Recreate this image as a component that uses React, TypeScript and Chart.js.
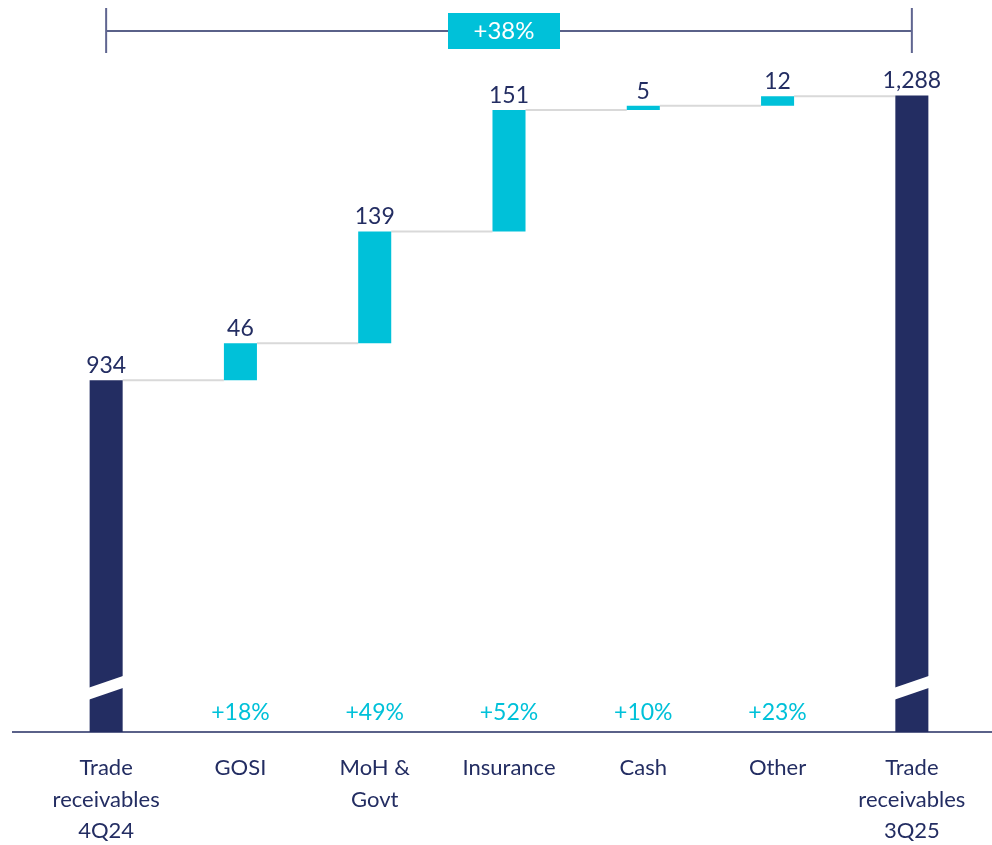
import React, { useEffect, useRef } from "react";
import { Chart, registerables } from "chart.js";
Chart.register(...registerables);

const categories: string[][] = [
  ["Trade", "receivables", "4Q24"],
  ["GOSI"],
  ["MoH &", "Govt"],
  ["Insurance"],
  ["Cash"],
  ["Other"],
  ["Trade", "receivables", "3Q25"],
];
const startTotal = 934;
const changes = [46, 139, 151, 5, 12];
const endTotal = 1288;
const growthLabels = ["+18%", "+49%", "+52%", "+10%", "+23%"];
const totalGrowth = "+38%";
const axisMin = 497;
const axisMax = 1332;
const breakValue = 552;

const NAVY = "#232d62";
const CYAN = "#00c1d9";
const GRAY = "#d9d9d9";
const FONT = "Lato, 'Open Sans', sans-serif";

function buildRanges(): [number, number][] {
  const out: [number, number][] = [[0, startTotal]];
  let level = startTotal;
  for (const c of changes) {
    out.push([level, level + c]);
    level += c;
  }
  out.push([0, endTotal]);
  return out;
}

function fmt(n: number) {
  return n.toLocaleString("en-US");
}

export default function App() {
  const ref = useRef<HTMLCanvasElement | null>(null);
  useEffect(() => {
    if (!ref.current) return;
    const ranges = buildRanges();
    const labelsText = [fmt(startTotal), ...changes.map((c) => fmt(c)), fmt(endTotal)];
    const colors = ranges.map((_, i) => (i === 0 || i === ranges.length - 1 ? NAVY : CYAN));

    const plugin = {
      id: "waterfallDecor",
      beforeDatasetsDraw(chart: any) {
        const ctx = chart.ctx;
        const meta = chart.getDatasetMeta(0);
        const y = chart.scales.y;
        ctx.save();
        ctx.strokeStyle = GRAY;
        ctx.lineWidth = 2;
        for (let i = 0; i < ranges.length - 1; i++) {
          const a = meta.data[i];
          const b = meta.data[i + 1];
          const lvl = i + 1 === ranges.length - 1 ? ranges[i][1] : ranges[i + 1][0];
          const py = y.getPixelForValue(lvl);
          ctx.beginPath();
          ctx.moveTo(a.x + a.width / 2, py);
          ctx.lineTo(b.x - b.width / 2, py);
          ctx.stroke();
        }
        ctx.restore();
      },
      afterDatasetsDraw(chart: any) {
        const ctx = chart.ctx;
        const meta = chart.getDatasetMeta(0);
        const x = chart.scales.x;
        const y = chart.scales.y;
        const area = chart.chartArea;
        ctx.save();
        // break marks
        const by = y.getPixelForValue(breakValue);
        [0, ranges.length - 1].forEach((i) => {
          const el = meta.data[i];
          const l = el.x - el.width / 2 - 1;
          const r = el.x + el.width / 2 + 1;
          ctx.fillStyle = "#ffffff";
          ctx.beginPath();
          ctx.moveTo(l, by);
          ctx.lineTo(r, by - 12);
          ctx.lineTo(r, by);
          ctx.lineTo(l, by + 12);
          ctx.closePath();
          ctx.fill();
        });
        // value labels
        ctx.fillStyle = NAVY;
        ctx.font = `23px ${FONT}`;
        ctx.textAlign = "center";
        ctx.textBaseline = "bottom";
        ranges.forEach((r, i) => {
          const el = meta.data[i];
          const top = y.getPixelForValue(Math.max(r[0], r[1]));
          ctx.fillText(labelsText[i], el.x, top - 3);
        });
        // growth labels
        ctx.fillStyle = CYAN;
        ctx.font = `23px ${FONT}`;
        ctx.textBaseline = "middle";
        growthLabels.forEach((g, i) => {
          ctx.fillText(g, x.getPixelForValue(i + 1), 713);
        });
        // axis line
        ctx.strokeStyle = NAVY;
        ctx.lineWidth = 1.5;
        ctx.beginPath();
        ctx.moveTo(12, area.bottom);
        ctx.lineTo(992, area.bottom);
        ctx.stroke();
        // category labels
        ctx.fillStyle = NAVY;
        ctx.font = `22px ${FONT}`;
        ctx.textBaseline = "middle";
        categories.forEach((lines, i) => {
          const cx = x.getPixelForValue(i);
          lines.forEach((t, j) => ctx.fillText(t, cx, 768 + j * 31.5));
        });
        // top bracket
        const x0 = x.getPixelForValue(0);
        const x1 = x.getPixelForValue(ranges.length - 1);
        ctx.strokeStyle = NAVY;
        ctx.lineWidth = 1.5;
        ctx.beginPath();
        ctx.moveTo(x0, 31);
        ctx.lineTo(x1, 31);
        ctx.stroke();
        ctx.strokeStyle = "#5f6590";
        ctx.lineWidth = 2;
        ctx.beginPath();
        ctx.moveTo(x0, 8);
        ctx.lineTo(x0, 53);
        ctx.moveTo(x1, 8);
        ctx.lineTo(x1, 53);
        ctx.stroke();
        const bw = 112;
        const bh = 36;
        const bx = (x0 + x1) / 2 - 5;
        ctx.fillStyle = CYAN;
        ctx.fillRect(bx - bw / 2, 13, bw, bh);
        ctx.fillStyle = "#ffffff";
        ctx.font = `24px ${FONT}`;
        ctx.fillText(totalGrowth, bx, 31);
        ctx.restore();
      },
    };

    const chart = new Chart(ref.current, {
      type: "bar",
      data: {
        labels: categories.map((c) => c.join(" ")),
        datasets: [
          {
            data: ranges as any,
            backgroundColor: colors,
            borderWidth: 0,
            barPercentage: 0.246,
            categoryPercentage: 1,
          },
        ],
      },
      options: {
        responsive: false,
        animation: false,
        layout: { padding: { left: 39, right: 13, top: 60, bottom: 113 } },
        plugins: { legend: { display: false }, tooltip: { enabled: false } },
        scales: {
          x: { display: false },
          y: { display: false, min: axisMin, max: axisMax },
        },
      },
      plugins: [plugin],
    });
    return () => chart.destroy();
  }, []);

  return (
    <div style={{ position: "fixed", left: 0, top: 0, width: 992, height: 845, background: "#fff" }}>
      <canvas ref={ref} width={992} height={845} />
    </div>
  );
}
